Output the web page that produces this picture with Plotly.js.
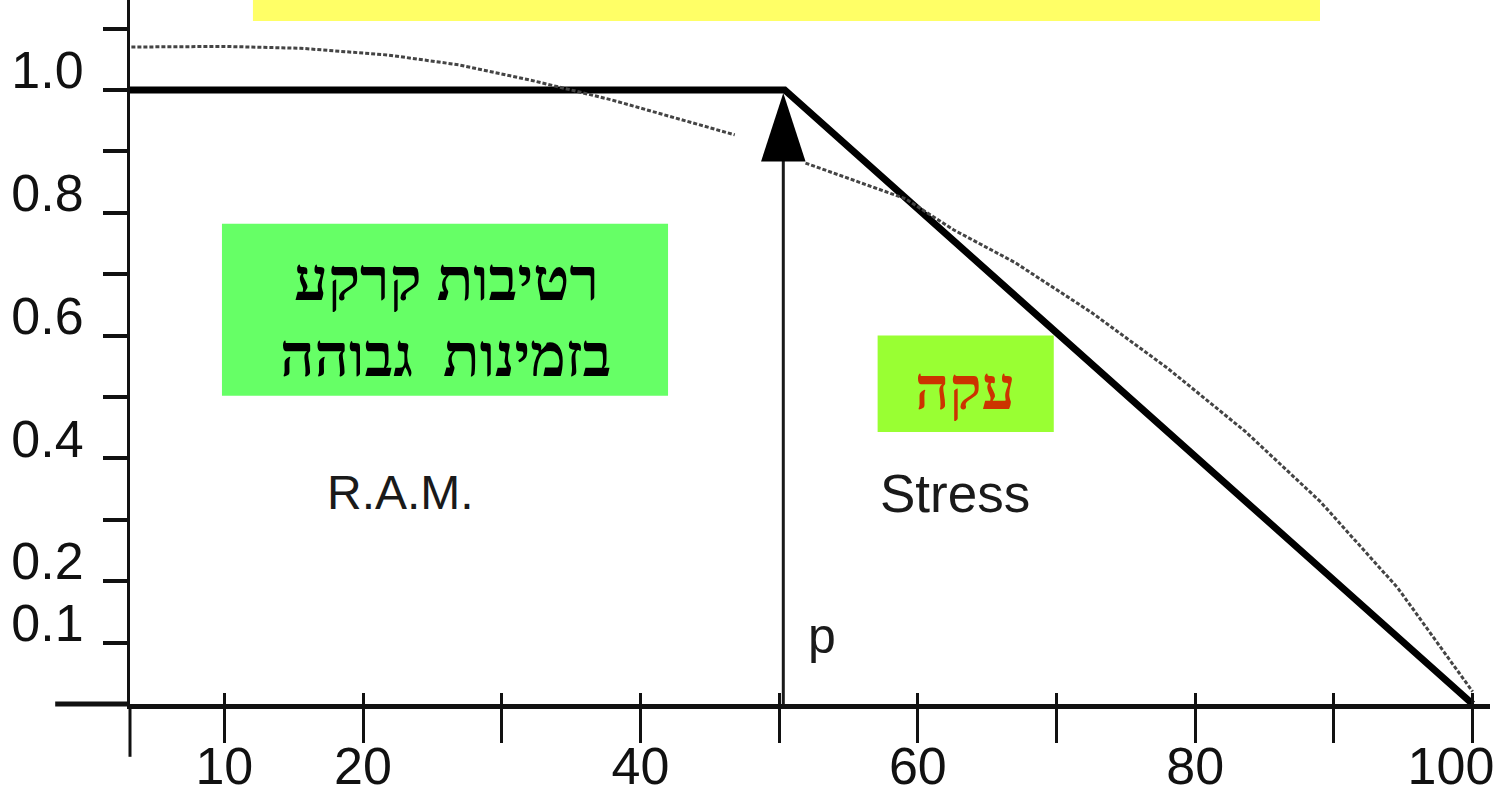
<!DOCTYPE html>
<html>
<head>
<meta charset="utf-8">
<script src="https://cdn.plot.ly/plotly-3.0.1.min.js"></script>
<style>
  html, body { margin: 0; padding: 0; background: #fff; }
  #chart { width: 1508px; height: 791px; }
</style>
</head>
<body>
<div id="chart"></div>
<script>
// broken-stick response: flat (R.A.M.) then linear decline (stress)
var stickX = [3.2, 50.4, 100];
var stickY = [1.0, 1.0, 0];

// measured curve (thin dotted), gap where it passes behind the arrow
var curveX = [3.3, 10, 15.5, 21.8, 26.9, 32.1, 37.9, 42.5, 46.8, null,
              51.9, 55.4, 59.1, 62.6, 67.0, 72.5, 78.0, 83.6, 89.0, 94.6, 98.7, 100];
var curveY = [1.070, 1.071, 1.068, 1.057, 1.041, 1.016, 0.984, 0.955, 0.927, null,
              0.881, 0.853, 0.823, 0.772, 0.719, 0.638, 0.547, 0.444, 0.330, 0.189, 0.060, 0.02];

// arrow marking point p
var pX = [50.3, 50.3];
var pY = [0, 0.995];

var xTicks = [10, 20, 30, 40, 50, 60, 70, 80, 90, 100];
// last label sits a little left of its tick, as in the scan
var xLabels = ["10", "20", "", "40", "", "60", "", "80", "", "100\u00a0\u00a0\u00a0"];
var yTicks = [0.1, 0.2, 0.3, 0.4, 0.5, 0.6, 0.7, 0.8, 0.9, 1.0, 1.1];
var yLabels = ["0.1", "0.2", "", "0.4", "", "0.6", "", "0.8", "", "1.0", ""];

var ink = "#111";
var sans = "Liberation Sans, Arial, sans-serif";
var hebrew = "Liberation Serif, DejaVu Serif, serif";

var traces = [
  {
    x: curveX, y: curveY, mode: "lines", xaxis: "x2",
    line: {color: "#444", width: 3, dash: "4px,2px"},
    hoverinfo: "skip"
  },
  {
    x: stickX, y: stickY, mode: "lines",
    line: {color: "#000", width: 7},
    hoverinfo: "skip"
  },
  {
    x: pX, y: pY, mode: "lines+markers",
    line: {color: "#1a1a1a", width: 3},
    marker: {symbol: "arrow", size: [0, 72], color: "#000", opacity: 1,
             line: {width: 0, color: "#000"}, angleref: "up"},
    hoverinfo: "skip"
  }
];

var xRange = [3.2, 101.25];

var layout = {
  width: 1508,
  height: 791,
  margin: {l: 130, r: 18, t: 0, b: 87},
  paper_bgcolor: "#fff",
  plot_bgcolor: "#fff",
  showlegend: false,
  xaxis: {
    range: xRange,
    tickmode: "array", tickvals: xTicks, ticktext: xLabels,
    ticks: "outside", ticklen: 34, tickwidth: 3, tickcolor: ink,
    showline: true, linewidth: 5, linecolor: ink,
    showgrid: false, zeroline: false,
    ticklabelstandoff: -21, ticklabeloverflow: "allow",
    tickfont: {family: sans, size: 52, color: ink}
  },
  xaxis2: {
    range: xRange, overlaying: "x", anchor: "y", side: "bottom",
    tickmode: "array", tickvals: xTicks,
    ticks: "inside", ticklen: 11, tickwidth: 3, tickcolor: ink,
    showticklabels: false, showline: false, showgrid: false, zeroline: false
  },
  yaxis: {
    range: [0, 704 / 614],
    tickmode: "array", tickvals: yTicks, ticktext: yLabels,
    ticks: "outside", ticklen: 24, tickwidth: 4, tickcolor: ink,
    showline: true, linewidth: 3, linecolor: ink,
    showgrid: false, zeroline: false,
    ticklabelshift: -20, ticklabelstandoff: 9,
    tickfont: {family: sans, size: 52, color: ink}
  },
  shapes: [
    // title banner (top, cut off)
    {type: "rect", xref: "paper", yref: "paper", x0: 0.0904, x1: 0.875, y0: 0.970, y1: 1.05,
     fillcolor: "#FFFF66", line: {width: 0}, layer: "above"},
    // axis line stubs past the origin
    {type: "line", xref: "paper", yref: "paper", x0: 0, x1: 0, y0: 0, y1: -0.075,
     line: {color: ink, width: 3}},
    {type: "line", xref: "paper", yref: "paper", x0: -0.055, x1: 0, y0: 0, y1: 0,
     line: {color: ink, width: 5}},
    // label boxes
    {type: "rect", xref: "x", yref: "y", x0: 9.83, x1: 41.99, y0: 0.502, y1: 0.782,
     fillcolor: "#66FF66", line: {width: 0}, layer: "below"},
    {type: "rect", xref: "x", yref: "y", x0: 57.1, x1: 69.8, y0: 0.443, y1: 0.600,
     fillcolor: "#99FF33", line: {width: 0}, layer: "below"}
  ],
  annotations: [
    {x: 26.0, y: 0.690, xref: "x", yref: "y", showarrow: false,
     text: "<b>רטיבות קרקע</b>", font: {family: hebrew, size: 60, color: "#000"}},
    {x: 26.0, y: 0.566, xref: "x", yref: "y", showarrow: false,
     text: "<b>בזמינות  גבוהה</b>", font: {family: hebrew, size: 60, color: "#000"}},
    {x: 63.45, y: 0.513, xref: "x", yref: "y", showarrow: false,
     text: "<b>עקה</b>", font: {family: hebrew, size: 60, color: "#CC3300"}},
    {x: 22.67, y: 0.344, xref: "x", yref: "y", showarrow: false,
     text: "R.A.M.", font: {family: sans, size: 48, color: "#1a1a1a"}},
    {x: 62.68, y: 0.343, xref: "x", yref: "y", showarrow: false,
     text: "Stress", font: {family: sans, size: 53, color: "#1a1a1a"}},
    {x: 53.1, y: 0.11, xref: "x", yref: "y", showarrow: false,
     text: "p", font: {family: sans, size: 50, color: "#1a1a1a"}}
  ]
};

Plotly.newPlot("chart", traces, layout, {displayModeBar: false, staticPlot: true});
</script>
</body>
</html>
